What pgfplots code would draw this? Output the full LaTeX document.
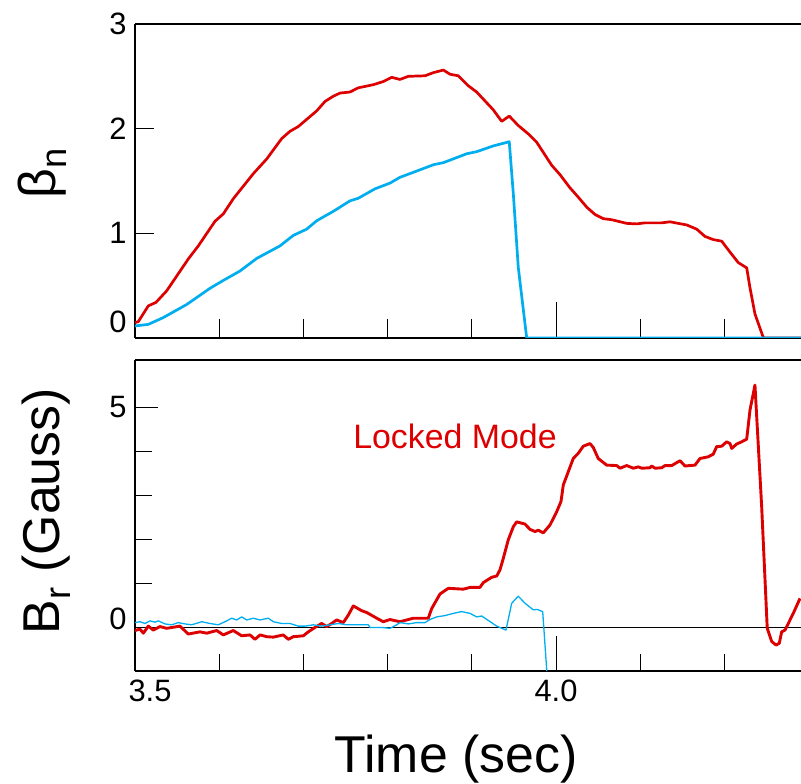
\documentclass[border=0pt]{standalone}
\usepackage{pgfplots}
\pgfplotsset{compat=1.18}
\usepackage{fontspec}
\setmainfont{Liberation Sans}
\definecolor{myred}{RGB}{221,0,0}
\definecolor{myblue}{RGB}{0,174,239}
\pgfplotsset{
  panel/.style={
    scale only axis, width=666bp, xmin=3.5, xmax=4.291,
    axis x line=box, axis y line=left,
    axis line style={-, line width=1.8bp, black},
    tick align=inside, xtick pos=bottom, ytick pos=left,
    tick style={black, line width=0.9bp},
    /pgf/number format/assume math mode=true,
    every tick label/.append style={font=\fontsize{31}{36}\selectfont},
    yticklabel style={xshift=-5bp},
    label style={font=\fontsize{52}{60}\selectfont},
    clip=true,
  }
}
\begin{document}
\begin{tikzpicture}[x=1bp,y=1bp]
\useasboundingbox (0,0) rectangle (801,784);
% ---------------- top panel ----------------
\begin{axis}[panel,
  at={(135bp,446bp)}, anchor=south west, height=314bp,
  ymin=0, ymax=3,
  ytick={0,1,2,3},
  yticklabels={\raisebox{16bp}[\height][\depth]{0},1,2,3},
  xtick={3.6,3.7,3.8,3.9,4.1,4.2}, xticklabels={},
  major tick length=19bp,
  extra x ticks={4.0}, extra x tick labels={},
  extra x tick style={major tick length=36bp},
  ylabel={β\textsubscript{n}},
  ylabel style={at={(axis description cs:-0.120,0.525)}, anchor=base},
]
\addplot[myred, line width=2.7bp, line join=round] coordinates {
(3.5000,0.147) (3.5039,0.156) (3.5158,0.307) (3.5249,0.34) (3.5376,0.45)
(3.5633,0.755) (3.5752,0.88) (3.5950,1.115) (3.6049,1.186) (3.6167,1.33)
(3.6405,1.57) (3.6564,1.71) (3.6742,1.905) (3.6841,1.975) (3.6939,2.02)
(3.7158,2.17) (3.7257,2.26) (3.7355,2.31) (3.7435,2.34) (3.7553,2.35)
(3.7652,2.39) (3.7830,2.42) (3.7949,2.45) (3.8049,2.49) (3.8147,2.47)
(3.8246,2.50) (3.8444,2.505) (3.8543,2.535) (3.8662,2.56) (3.8741,2.52)
(3.8840,2.505) (3.8958,2.41) (3.9058,2.35) (3.9255,2.18) (3.9355,2.07)
(3.9445,2.12) (3.9552,2.03) (3.9671,1.95) (3.9771,1.87) (3.9949,1.65)
(4.0048,1.56) (4.0166,1.435) (4.0265,1.345) (4.0365,1.25) (4.0463,1.18)
(4.0562,1.14) (4.0662,1.13) (4.0840,1.095) (4.0958,1.09) (4.1057,1.10)
(4.1255,1.10) (4.1354,1.11) (4.1552,1.08) (4.1671,1.04) (4.1770,0.97)
(4.1868,0.94) (4.1968,0.925) (4.2067,0.82) (4.2165,0.72) (4.2265,0.67)
(4.2304,0.48) (4.2363,0.23) (4.2455,0.02) (4.2470,0) (4.2910,0)
};
\addplot[myblue, line width=2.7bp, line join=round] coordinates {
(3.5000,0.115) (3.5158,0.13) (3.5336,0.195) (3.5614,0.32) (3.5891,0.475)
(3.6049,0.55) (3.6247,0.64) (3.6445,0.76) (3.6722,0.88) (3.6880,0.98)
(3.7039,1.04) (3.7158,1.12) (3.7355,1.21) (3.7553,1.31) (3.7652,1.335)
(3.7850,1.425) (3.8029,1.48) (3.8147,1.535) (3.8346,1.595) (3.8543,1.655)
(3.8662,1.675) (3.8939,1.76) (3.9058,1.78) (3.9255,1.835) (3.9445,1.875)
(3.9493,1.38) (3.9552,0.675) (3.9652,0.0) (4.2910,0.0)
};
\end{axis}
% ---------------- bottom panel ----------------
\begin{axis}[panel,
  at={(135bp,113bp)}, anchor=south west, height=311bp,
  ymin=-1, ymax=6.07,
  ytick={1,2,3,4}, yticklabels={},
  extra y ticks={0,5},
  extra y tick labels={\raisebox{8bp}[\height][\depth]{0},5},
  extra y tick style={major tick length=23bp},
  xtick={3.5,3.6,3.7,3.8,3.9,4.1,4.2},
  xticklabels={\hspace*{30bp}3.5,,,,,,},
  major tick length=17bp,
  extra x ticks={4.0}, extra x tick labels={4.0},
  extra x tick style={major tick length=35bp},
  xticklabel style={yshift=-5bp},
  ylabel={B\textsubscript{r} (Gauss)},
  ylabel style={at={(axis description cs:-0.113,0.514)}, anchor=base},
  xlabel={Time (sec)},
  xlabel style={at={(axis description cs:0.482,-0.325)}, anchor=base},
]
\addplot[black, line width=0.9bp] coordinates {(3.5,0) (4.291,0)};
\addplot[myred, line width=2.9bp, line join=round] coordinates {
(3.5000,-0.08) (3.5059,-0.05) (3.5099,-0.14) (3.5158,0.02) (3.5217,-0.07)
(3.5297,0.01) (3.5376,-0.03) (3.5534,0.02) (3.5633,-0.16) (3.5772,-0.11)
(3.5852,-0.14) (3.5970,-0.08) (3.6049,-0.18) (3.6167,-0.08) (3.6267,-0.20)
(3.6366,-0.18) (3.6425,-0.28) (3.6485,-0.18) (3.6564,-0.22) (3.6643,-0.23)
(3.6761,-0.18) (3.6821,-0.28) (3.6880,-0.22) (3.6999,-0.20) (3.7058,-0.11)
(3.7138,-0.01) (3.7217,0.08) (3.7277,0.01) (3.7336,0.08) (3.7395,0.16)
(3.7474,0.10) (3.7533,0.27) (3.7593,0.48) (3.7692,0.37) (3.7752,0.33)
(3.7871,0.20) (3.7949,0.12) (3.8029,0.17) (3.8147,0.12) (3.8227,0.16)
(3.8305,0.20) (3.8483,0.20) (3.8524,0.42) (3.8622,0.75) (3.8721,0.88)
(3.8899,0.86) (3.8979,0.90) (3.9097,0.90) (3.9137,1.01) (3.9236,1.13)
(3.9296,1.16) (3.9335,1.30) (3.9374,1.56) (3.9433,1.98) (3.9493,2.28)
(3.9533,2.39) (3.9632,2.34) (3.9691,2.22) (3.9751,2.17) (3.9790,2.20)
(3.9849,2.14) (3.9929,2.32) (4.0008,2.62) (4.0059,2.85) (4.0087,3.23)
(4.0146,3.53) (4.0205,3.83) (4.0265,3.95) (4.0324,4.11) (4.0404,4.17)
(4.0443,4.08) (4.0502,3.83) (4.0602,3.68) (4.0721,3.67) (4.0760,3.61)
(4.0840,3.67) (4.0918,3.61) (4.0978,3.64) (4.1018,3.61) (4.1116,3.62)
(4.1137,3.66) (4.1176,3.61) (4.1255,3.62) (4.1295,3.67) (4.1374,3.67)
(4.1473,3.78) (4.1532,3.66) (4.1651,3.68) (4.1710,3.83) (4.1809,3.87)
(4.1868,3.93) (4.1908,4.10) (4.1968,4.11) (4.2027,4.21) (4.2067,4.17)
(4.2087,4.06) (4.2146,4.16) (4.2205,4.21) (4.2265,4.27) (4.2304,4.93)
(4.2363,5.50) (4.2443,2.73) (4.2509,-0.03) (4.2562,-0.33) (4.2613,-0.41)
(4.2652,-0.37) (4.2680,-0.11) (4.2720,-0.07) (4.2818,0.31) (4.2898,0.65)
};
\addplot[myblue, line width=1.3bp, line join=round] coordinates {
(3.5000,0.10) (3.5059,0.12) (3.5119,0.08) (3.5178,0.14) (3.5238,0.11)
(3.5277,0.14) (3.5356,0.07) (3.5436,0.05) (3.5514,0.10) (3.5594,0.07)
(3.5673,0.05) (3.5792,0.12) (3.5891,0.08) (3.5989,0.05) (3.6069,0.12)
(3.6148,0.20) (3.6208,0.16) (3.6267,0.23) (3.6327,0.16) (3.6405,0.20)
(3.6485,0.16) (3.6583,0.20) (3.6643,0.12) (3.6742,0.08) (3.6841,0.08)
(3.6939,0.02) (3.7019,0.02) (3.7118,0.05) (3.7217,0.02) (3.7316,0.05)
(3.7414,0.08) (3.7514,0.05) (3.7633,0.05) (3.7771,0.05) (3.7791,-0.01)
(3.7930,-0.01) (3.8029,-0.03) (3.8108,0.05) (3.8147,0.10) (3.8246,0.07)
(3.8346,0.10) (3.8444,0.10) (3.8504,0.17) (3.8583,0.23) (3.8682,0.26)
(3.8780,0.31) (3.8880,0.35) (3.8979,0.31) (3.9058,0.23) (3.9118,0.25)
(3.9296,0.02) (3.9406,-0.07) (3.9474,0.54) (3.9552,0.70) (3.9632,0.54)
(3.9730,0.39) (3.9778,0.40) (3.9842,0.35) (3.9890,-0.98) (3.9895,-1.5)
};
\node[anchor=base west, inner sep=0, text=myred, font=\fontsize{34}{40}\selectfont]
  at (axis cs:3.759,4.05) {Locked Mode};
\end{axis}
\end{tikzpicture}
\end{document}
